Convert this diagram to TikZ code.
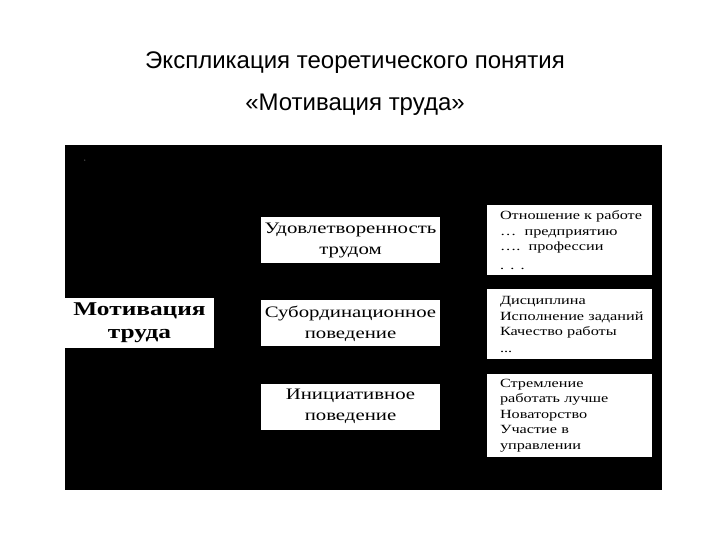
\documentclass[tikz,border=0pt]{standalone}
\usepackage{fontspec}
\setmainfont{Liberation Serif}
\newfontfamily\titlefont{Liberation Sans}
\newfontfamily\boxfont[FakeStretch=1.3]{Liberation Serif}
\usetikzlibrary{positioning}

\tikzset{
  panel/.style={fill=white, inner sep=0pt, align=center,
    font=\boxfont\fontsize{16}{21}\selectfont},
  factor/.style={panel, minimum width=179pt, minimum height=46pt},
  indicator/.style={panel, minimum width=165pt, text width=139pt, align=left,
    font=\boxfont\fontsize{12.5}{15.5}\selectfont},
  heading/.style={font=\titlefont\fontsize{24}{28}\selectfont},
}

\begin{document}
\begin{tikzpicture}[x=1pt,y=-1pt]
  \useasboundingbox (0,0) rectangle (720,540);

  \node[heading](title) at (355,63){Экспликация теоретического понятия};
  \node[heading](subtitle) at (355,105){«Мотивация труда»};

  \node[fill=black, inner sep=0pt, minimum width=597pt, minimum height=345pt,
    anchor=north west](field) at (65,145){};
  \node[white, font=\tiny](tick) at (85,162){'};

  % concept
  \node[panel, minimum width=149pt, minimum height=50pt,
    font=\boxfont\bfseries\fontsize{19.5}{23}\selectfont](motiv) at (139.5,323){Мотивация\\труда};

  % dimensions
  \node[factor](sat) at (350.5,240){Удовлетворенность\\трудом};
  \node[factor, below = 37pt of sat](sub){Субординационное\\поведение};
  \node[factor, below = 37pt of sub](init){Инициативное\\поведение};

  % indicators
  \node[indicator, minimum height=70pt](attitude) at (569.5,240){Отношение~к~работе\\
    …~~предприятию\\….~~профессии\\[3pt]. . .};
  \node[indicator, minimum height=70pt, below = 14pt of attitude](discipline){Дисциплина\\
    Исполнение~заданий\\Качество~работы\\[1pt]...};
  \node[indicator, minimum height=83pt, below = 14pt of discipline](initiative){Стремление\\
    работать~лучше\\Новаторство\\Участие~в\\управлении};
\end{tikzpicture}
\end{document}
